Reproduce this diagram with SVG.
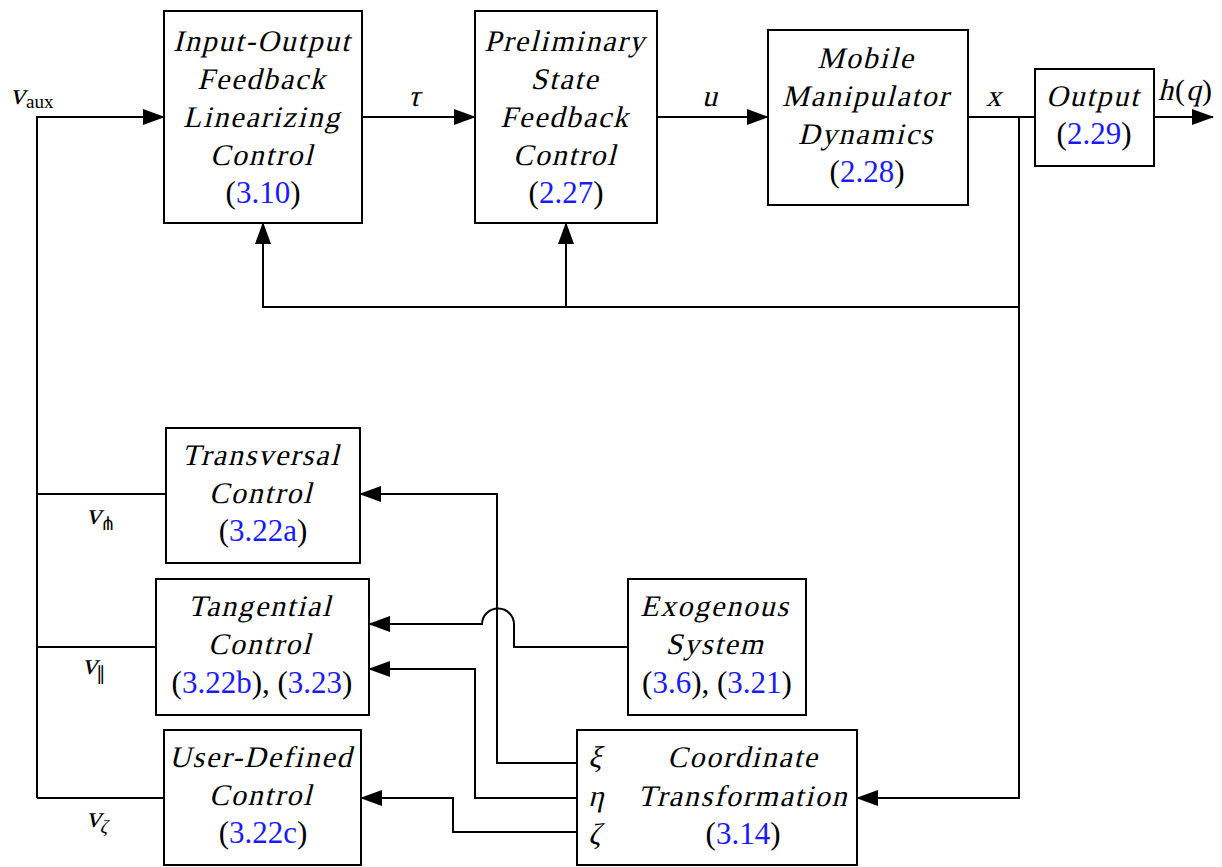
<svg xmlns="http://www.w3.org/2000/svg" width="1222" height="867" viewBox="0 0 1222 867">
<defs>
<marker id="ah" markerWidth="22" markerHeight="16" refX="21" refY="8" orient="auto" markerUnits="userSpaceOnUse">
<path d="M0,0 L22,8 L0,16 Z" fill="#000"/>
</marker>
<style>
.box{fill:#fff;stroke:#000;stroke-width:2}
.ln{fill:none;stroke:#000;stroke-width:2}
.t{font-family:"Liberation Serif","DejaVu Serif",serif;font-size:30px;letter-spacing:1.8px;text-anchor:middle;fill:#000}
.n{font-family:"Liberation Serif","DejaVu Serif",serif;font-size:31px;text-anchor:middle;fill:#000}
.b{fill:#1a1aff}
.m{font-family:"Liberation Serif","DejaVu Serif",serif;font-size:30px;fill:#000}
.s{font-family:"Liberation Serif",serif;font-size:19px}
</style>
</defs>
<rect width="1222" height="867" fill="#fff"/>
<g id="connectors">
<path class="ln" d="M37,798 V117 H164" marker-end="url(#ah)"/>
<path class="ln" d="M362,117 H475" marker-end="url(#ah)"/>
<path class="ln" d="M657,117 H768" marker-end="url(#ah)"/>
<path class="ln" d="M968,117 H1035"/>
<path class="ln" d="M1154,117 H1213" marker-end="url(#ah)"/>
<path class="ln" d="M1019,117 V798 H857" marker-end="url(#ah)"/>
<path class="ln" d="M1019,307 H263 V223" marker-end="url(#ah)"/>
<path class="ln" d="M566,307 V223" marker-end="url(#ah)"/>
<path class="ln" d="M37,494 H166"/>
<path class="ln" d="M37,647 H156"/>
<path class="ln" d="M37,798 H164"/>
<path class="ln" d="M577,763 H497 V494 H360" marker-end="url(#ah)"/>
<path class="ln" d="M577,798 H475 V669 H369" marker-end="url(#ah)"/>
<path class="ln" d="M577,832 H453 V798 H361" marker-end="url(#ah)"/>
<path class="ln" d="M628,647 H514 V625 A16,16 0 0 0 482,624 H369" marker-end="url(#ah)"/>
</g>
<g id="labels">
<text class="m" transform="translate(10,104) skewX(-14)">v</text>
<text class="s" x="26" y="108">aux</text>
<text class="m" transform="translate(408,106) skewX(-14)">τ</text>
<text class="m" transform="translate(702,106) skewX(-14)">u</text>
<text class="m" transform="translate(986,106) skewX(-14)">x</text>
<text class="m" transform="translate(1158,100) skewX(-14)">h</text>
<text class="m" x="1175" y="100">(</text>
<text class="m" transform="translate(1186,100) skewX(-14)">q</text>
<text class="m" x="1202" y="100">)</text>
<text class="m" transform="translate(86,524) skewX(-14)">v</text>
<text class="s" x="100" y="530">⋔</text>
<text class="m" transform="translate(82,674) skewX(-14)">v</text>
<text class="s" x="96" y="680">∥</text>
<text class="m" transform="translate(86,827) skewX(-14)">v<tspan dy="6" style="font-size:19px">ζ</tspan></text>
</g>
<g id="iofl">
<rect class="box" x="164" y="11" width="198" height="212"/>
<text class="t" transform="translate(262,51) skewX(-14)">Input-Output</text>
<text class="t" transform="translate(262,89) skewX(-14)">Feedback</text>
<text class="t" transform="translate(262,127) skewX(-14)">Linearizing</text>
<text class="t" transform="translate(262,165) skewX(-14)">Control</text>
<text class="n" x="263" y="203">(<tspan class="b">3.10</tspan>)</text>
</g>
<g id="prelim">
<rect class="box" x="475" y="11" width="182" height="212"/>
<text class="t" transform="translate(565,51) skewX(-14)">Preliminary</text>
<text class="t" transform="translate(565,89) skewX(-14)">State</text>
<text class="t" transform="translate(565,127) skewX(-14)">Feedback</text>
<text class="t" transform="translate(565,165) skewX(-14)">Control</text>
<text class="n" x="566" y="203">(<tspan class="b">2.27</tspan>)</text>
</g>
<g id="dynamics">
<rect class="box" x="768" y="30" width="200" height="175"/>
<text class="t" transform="translate(866,68) skewX(-14)">Mobile</text>
<text class="t" transform="translate(866,106) skewX(-14)">Manipulator</text>
<text class="t" transform="translate(866,144) skewX(-14)">Dynamics</text>
<text class="n" x="867" y="182">(<tspan class="b">2.28</tspan>)</text>
</g>
<g id="output">
<rect class="box" x="1035" y="69" width="119" height="97"/>
<text class="t" transform="translate(1093,106) skewX(-14)">Output</text>
<text class="n" x="1094" y="144">(<tspan class="b">2.29</tspan>)</text>
</g>
<g id="transversal">
<rect class="box" x="166" y="428" width="194" height="135"/>
<text class="t" transform="translate(261,465) skewX(-14)">Transversal</text>
<text class="t" transform="translate(261,503) skewX(-14)">Control</text>
<text class="n" x="263" y="541">(<tspan class="b">3.22a</tspan>)</text>
</g>
<g id="tangential">
<rect class="box" x="156" y="579" width="213" height="136"/>
<text class="t" transform="translate(260,616) skewX(-14)">Tangential</text>
<text class="t" transform="translate(260,654) skewX(-14)">Control</text>
<text class="n" x="262" y="693">(<tspan class="b">3.22b</tspan>), (<tspan class="b">3.23</tspan>)</text>
</g>
<g id="exogenous">
<rect class="box" x="628" y="579" width="178" height="136"/>
<text class="t" transform="translate(715,616) skewX(-14)">Exogenous</text>
<text class="t" transform="translate(715,654) skewX(-14)">System</text>
<text class="n" x="717" y="693">(<tspan class="b">3.6</tspan>), (<tspan class="b">3.21</tspan>)</text>
</g>
<g id="userdefined">
<rect class="box" x="164" y="730" width="197" height="135"/>
<text class="t" transform="translate(261,767) skewX(-14)">User-Defined</text>
<text class="t" transform="translate(261,805) skewX(-14)">Control</text>
<text class="n" x="263" y="843">(<tspan class="b">3.22c</tspan>)</text>
</g>
<g id="coordinate">
<rect class="box" x="577" y="730" width="280" height="135"/>
<text class="m" transform="translate(588,767) skewX(-14)">ξ</text>
<text class="m" transform="translate(588,806) skewX(-14)">η</text>
<text class="m" transform="translate(588,844) skewX(-14)">ζ</text>
<text class="t" transform="translate(743,767) skewX(-14)">Coordinate</text>
<text class="t" transform="translate(743,806) skewX(-14)">Transformation</text>
<text class="n" x="743" y="844">(<tspan class="b">3.14</tspan>)</text>
</g>
</svg>
